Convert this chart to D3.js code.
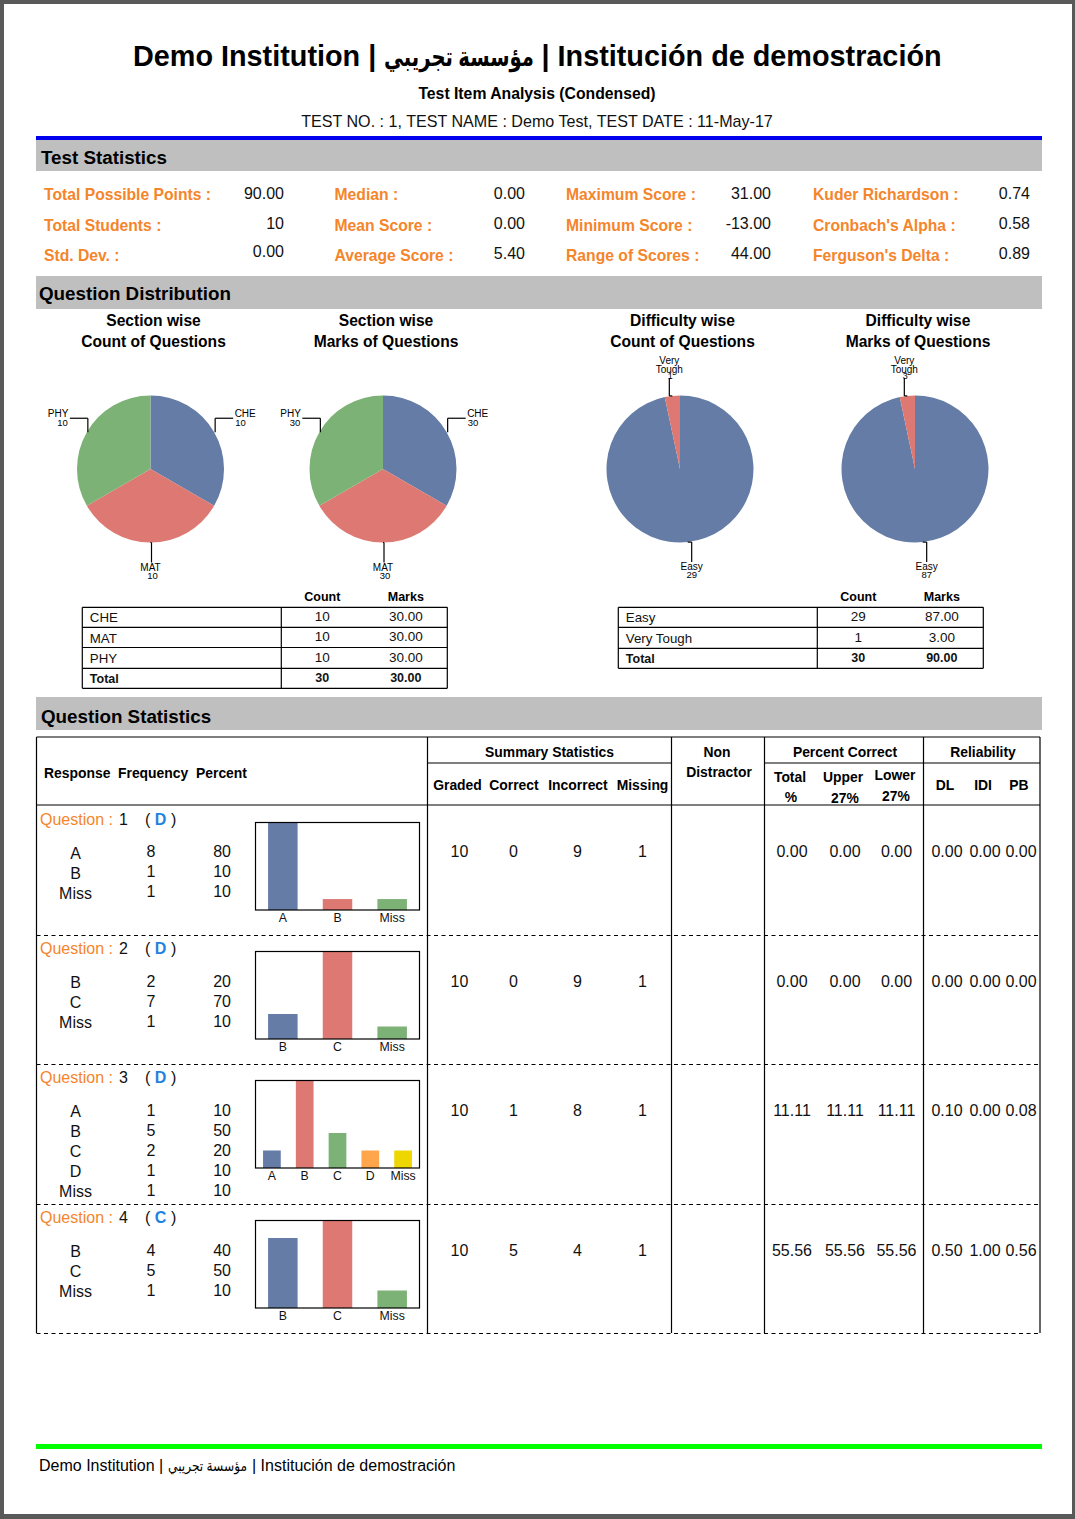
<!DOCTYPE html>
<html>
<head>
<meta charset="utf-8">
<script src="https://cdn.jsdelivr.net/npm/d3@7"></script>
<style>
body { margin: 0; background: #fff; }
svg { display: block; }
text { font-family: "Liberation Sans", "DejaVu Sans", sans-serif; fill: #111; }
</style>
</head>
<body>
<div id="chart"></div>
<script>
var institutionLatin = "Demo Institution |";
var institutionArabic = "مؤسسة تجريبي";
var institutionSpanish = "| Institución de demostración";
var reportTitle = "Test Item Analysis (Condensed)";
var testLine = "TEST NO. : 1, TEST NAME : Demo Test, TEST DATE : 11-May-17";

var statLabels = [
    ["Total Possible Points :", "Total Students :", "Std. Dev. :"],
    ["Median :", "Mean Score :", "Average Score :"],
    ["Maximum Score :", "Minimum Score :", "Range of Scores :"],
    ["Kuder Richardson :", "Cronbach's Alpha :", "Ferguson's Delta :"]
];
var statValues = [
    ["90.00", "10", "0.00"],
    ["0.00", "0.00", "5.40"],
    ["31.00", "-13.00", "44.00"],
    ["0.74", "0.58", "0.89"]
];

var sectionNames = ["CHE", "MAT", "PHY"];
var sectionCounts = [10, 10, 10];
var sectionMarks = [30, 30, 30];
var difficultyNames = ["Easy", "Very Tough"];
var difficultyCounts = [29, 1];
var difficultyMarks = [87, 3];

var questionNumbers = [1, 2, 3, 4];
var questionKeys = ["D", "D", "D", "C"];
var responseLabels = [
    ["A", "B", "Miss"],
    ["B", "C", "Miss"],
    ["A", "B", "C", "D", "Miss"],
    ["B", "C", "Miss"]
];
var responseFrequency = [
    [8, 1, 1],
    [2, 7, 1],
    [1, 5, 2, 1, 1],
    [4, 5, 1]
];
var responsePercent = [
    [80, 10, 10],
    [20, 70, 10],
    [10, 50, 20, 10, 10],
    [40, 50, 10]
];
var summaryStats = [
    [10, 0, 9, 1],
    [10, 0, 9, 1],
    [10, 1, 8, 1],
    [10, 5, 4, 1]
];
var percentCorrect = [
    ["0.00", "0.00", "0.00"],
    ["0.00", "0.00", "0.00"],
    ["11.11", "11.11", "11.11"],
    ["55.56", "55.56", "55.56"]
];
var reliability = [
    ["0.00", "0.00", "0.00"],
    ["0.00", "0.00", "0.00"],
    ["0.10", "0.00", "0.08"],
    ["0.50", "1.00", "0.56"]
];

var sliceColors = ["#647ca6", "#dd7972", "#7db276", "#ffa64d", "#eed700"];
var orange = "#f5852b";

// ---- page ----
var svg = d3.select("#chart").append("svg")
    .attr("width", 1075)
    .attr("height", 1519);

svg.append("rect").attr("width", 1075).attr("height", 1519).attr("fill", "#595959");
svg.append("rect").attr("x", 4).attr("y", 4).attr("width", 1068).attr("height", 1510).attr("fill", "#fff");

function label(x, y, txt, size, opts) {
    opts = opts || {};
    return svg.append("text")
        .attr("x", x)
        .attr("y", y)
        .attr("text-anchor", opts.anchor || "middle")
        .style("font-size", size + "px")
        .style("font-weight", opts.bold ? "bold" : "normal")
        .style("fill", opts.color || "#111")
        .text(txt);
}

function line(x1, y1, x2, y2, width, dash) {
    svg.append("line")
        .attr("x1", x1).attr("y1", y1)
        .attr("x2", x2).attr("y2", y2)
        .attr("stroke", "#000")
        .attr("stroke-width", width || 1.2)
        .attr("stroke-dasharray", dash || null);
}

function band(y, h, color) {
    svg.append("rect").attr("x", 36).attr("y", y).attr("width", 1006).attr("height", h).attr("fill", color);
}

// the arabic fallback font runs wider than the original, so it gets squeezed
function institution(x1, x2, arabicLen, x3, y, size, bold) {
    var o = { bold: bold, anchor: "start", color: "#000" };
    label(x1, y, institutionLatin, size, o);
    var ar = label(0, 0, institutionArabic, size * 0.92, o);
    var k = arabicLen / ar.node().getComputedTextLength();
    ar.attr("transform", "translate(" + x2 + "," + y + ") scale(" + k + ",1)");
    label(x3, y, institutionSpanish, size, o);
}

institution(133, 384, 150, 541.5, 66, 28.8, true);
label(537, 99, reportTitle, 15.75, { bold: true, color: "#000" });
label(537, 127, testLine, 16.1);

band(136, 4, "#0000ee");
band(140, 31, "#bfbfbf");
band(276, 33, "#bfbfbf");
band(697, 33, "#bfbfbf");
band(1444, 5, "#00ff00");

label(41, 163.5, "Test Statistics", 18.8, { bold: true, anchor: "start", color: "#000" });
label(39, 299.5, "Question Distribution", 18.8, { bold: true, anchor: "start", color: "#000" });
label(41, 722.5, "Question Statistics", 18.8, { bold: true, anchor: "start", color: "#000" });
institution(39, 168, 79, 252, 1471, 16, false);

// ---- test statistics ----
var statColX = [44, 334.5, 566, 813];
var statValX = [284, 525, 771, 1030];
var statLabelY = [200, 231, 261];
var statValueY = [199, 229, 259];
statLabels.forEach(function(col, c) {
    col.forEach(function(txt, r) {
        label(statColX[c], statLabelY[r], txt, 15.7, { bold: true, anchor: "start", color: orange });
        var vy = (c === 0 && r === 2) ? 257 : statValueY[r];
        label(statValX[c], vy, statValues[c][r], 16, { anchor: "end" });
    });
});

// ---- pies ----
var pie = d3.pie().sort(null);
var pieR = 73.5;
var arc = d3.arc().innerRadius(0).outerRadius(pieR);

function drawPie(cx, cy, names, values, titleX, title1, title2) {
    label(titleX, 326, title1, 15.6, { bold: true, color: "#000" });
    label(titleX, 347, title2, 15.6, { bold: true, color: "#000" });

    var g = svg.append("g").attr("transform", "translate(" + cx + "," + cy + ")");
    var slices = pie(values);
    g.selectAll("path")
        .data(slices)
        .enter().append("path")
        .attr("d", arc)
        .attr("fill", function(d, i) { return sliceColors[i]; });

    slices.forEach(function(d, i) {
        var mid = (d.startAngle + d.endAngle) / 2;
        var px = cx + Math.sin(mid) * pieR;
        var py = cy - Math.cos(mid) * pieR;
        var up = Math.cos(mid) > 0;
        var nearAxis = Math.abs(Math.sin(mid)) < 0.2;
        var dir = Math.sin(mid) > 0.01 ? 1 : (Math.sin(mid) < -0.01 ? -1 : 0);

        if (nearAxis) {
            // slice at the top or bottom: short step then straight out
            var ex = px + dir * 3.5 + (dir === 0 ? 1 : 0.5);
            var ey = up ? py - 18 : py + 20;
            var nudge = dir === 0 ? 1 : 0;
            line(px, py, ex, py);
            line(ex, py, ex, ey);
            if (up) {
                var parts = names[i].split(" ");
                label(ex, ey - 14, parts[0], 10, { color: "#000" });
                label(ex, ey - 5, parts[1], 10, { color: "#000" });
                label(ex + 1, ey + 1, values[i], 9, { color: "#000" });
            } else {
                label(ex - nudge, ey + 8, names[i], 10, { color: "#000" });
                label(ex + nudge, ey + 16, values[i], 9.5, { color: "#000" });
            }
        } else {
            px += 1;
            var tx = px + dir * 18;
            var ty = py - 14;
            line(px, py, px, ty);
            line(px, ty, tx, ty);
            var a = dir > 0 ? "start" : "end";
            label(tx + dir * 1.5, ty - 1, names[i], 10, { anchor: a, color: "#000" });
            label(tx + dir * 2, ty + 8, values[i], 9.5, { anchor: a, color: "#000" });
        }
    });
}

drawPie(150.5, 469, sectionNames, sectionCounts, 153.5, "Section wise", "Count of Questions");
drawPie(383, 469, sectionNames, sectionMarks, 386, "Section wise", "Marks of Questions");
drawPie(680, 469, difficultyNames, difficultyCounts, 682.5, "Difficulty wise", "Count of Questions");
drawPie(915, 469, difficultyNames, difficultyMarks, 918, "Difficulty wise", "Marks of Questions");

// ---- small tables under the pies ----
function drawTable(x0, x1, x2, names, counts, marks, rowLines) {
    var countX = (x1 + x2) / 2 - 42;
    var marksX = (x1 + x2) / 2 + 41.5;
    label(countX, 600.5, "Count", 12.5, { bold: true, color: "#000" });
    label(marksX, 600.5, "Marks", 12.5, { bold: true, color: "#000" });

    rowLines.forEach(function(y) { line(x0, y, x2, y); });
    [x0, x1, x2].forEach(function(x) {
        line(x, rowLines[0], x, rowLines[rowLines.length - 1]);
    });

    names.forEach(function(n, i) {
        var y = rowLines[i + 1];
        label(x0 + 7.5, y - 5, n, 13.3, { anchor: "start" });
        label(countX, y - 6.5, counts[i], 13.5);
        label(marksX, y - 6.5, marks[i].toFixed(2), 13.5);
    });
    var last = rowLines[rowLines.length - 1];
    label(x0 + 7.5, last - 5, "Total", 12.5, { bold: true, anchor: "start" });
    label(countX, last - 6.5, d3.sum(counts), 12.5, { bold: true });
    return { marksX: marksX, y: last - 6.5 };
}

var t1 = drawTable(82.3, 281.3, 447.3, sectionNames, sectionCounts, sectionMarks, [607.3, 627.3, 647.5, 668.3, 688.3]);
// the report prints 30.00 on this total row
label(t1.marksX, t1.y, "30.00", 12.5, { bold: true });
var t2 = drawTable(618.3, 817.3, 983.3, difficultyNames, difficultyCounts, difficultyMarks, [607.3, 627.3, 648.3, 668.3]);
label(t2.marksX, t2.y, d3.sum(difficultyMarks).toFixed(2), 12.5, { bold: true });

// ---- question statistics table ----
var gridTop = 737, headTop = 763, headBottom = 805, gridBottom = 1333;
var gridV = [36.5, 427.5, 671.5, 764.5, 923.5, 1040];

line(36.5, gridTop, 1040, gridTop);
line(36.5, headBottom, 1040, headBottom);
line(427.5, headTop, 671.5, headTop);
line(764.5, headTop, 1040, headTop);
gridV.forEach(function(x) { line(x, gridTop, x, gridBottom); });

function head(x, y, txt, anchor) {
    label(x, y, txt, 13.9, { bold: true, anchor: anchor || "middle", color: "#000" });
}
head(44, 778, "Response", "start");
head(118, 778, "Frequency", "start");
head(196, 778, "Percent", "start");
head(549.5, 757, "Summary Statistics");
head(457.5, 790, "Graded");
head(514, 790, "Correct");
head(578, 790, "Incorrect");
head(642.5, 790, "Missing");
head(717, 757, "Non");
head(719, 777, "Distractor");
head(845, 757, "Percent Correct");
head(790, 782, "Total");
head(791, 802, "%");
head(843, 782, "Upper");
head(845, 803, "27%");
head(895, 780, "Lower");
head(896, 801, "27%");
head(983, 757, "Reliability");
head(945, 790, "DL");
head(983, 790, "IDI");
head(1019, 790, "PB");

var rowTops = [806, 935.5, 1064.5, 1204.5];
var labelTops = [806, 934.5, 1063.5, 1203.5];
var rowBottoms = [935.5, 1064.5, 1204.5, 1333.5];
var frameTops = [822.5, 951.5, 1080.5, 1220.5];
var frameX0 = 255.5, frameX1 = 419.5, frameH = 87.5;
var summaryX = [459.5, 513.5, 577.5, 642.5];
var correctX = [792, 845, 896.5];
var reliabilityX = [947, 985, 1021];

questionNumbers.forEach(function(q, i) {
    var top = rowTops[i], lt = labelTops[i];
    line(36.5, rowBottoms[i], 1040, rowBottoms[i], 1.1, "4,3.5");

    label(40, lt + 19, "Question : ", 16, { anchor: "start", color: orange });
    label(119, lt + 19, q, 16, { anchor: "start" });
    label(145, lt + 19, "(", 16, { anchor: "start" });
    label(160.5, lt + 19, questionKeys[i], 16, { bold: true, color: "#1e82e0" });
    label(171, lt + 19, ")", 16, { anchor: "start" });

    responseLabels[i].forEach(function(r, k) {
        label(75.5, lt + 53 + k * 20, r, 16);
        label(151, top + 51 + k * 20, responseFrequency[i][k], 16);
        label(231, top + 51 + k * 20, responsePercent[i][k], 16, { anchor: "end" });
    });

    summaryStats[i].forEach(function(v, k) { label(summaryX[k], top + 51, v, 16); });
    percentCorrect[i].forEach(function(v, k) { label(correctX[k], top + 51, v, 16); });
    reliability[i].forEach(function(v, k) { label(reliabilityX[k], top + 51, v, 16); });

    // frequency bars
    var x = d3.scaleBand()
        .domain(responseLabels[i])
        .range([frameX0, frameX1])
        .paddingInner(0.46)
        .paddingOuter(0.23);
    var y = d3.scaleLinear()
        .domain([0, d3.max(responseFrequency[i])])
        .range([frameTops[i] + frameH, frameTops[i]]);

    svg.append("g").selectAll("rect")
        .data(responseFrequency[i])
        .enter().append("rect")
        .attr("x", function(d, k) { return x(responseLabels[i][k]); })
        .attr("y", function(d) { return y(d); })
        .attr("width", x.bandwidth())
        .attr("height", function(d) { return y(0) - y(d); })
        .attr("fill", function(d, k) { return sliceColors[k]; });

    svg.append("rect")
        .attr("x", frameX0).attr("y", frameTops[i])
        .attr("width", frameX1 - frameX0).attr("height", frameH)
        .attr("fill", "none")
        .attr("stroke", "#000")
        .attr("stroke-width", 1.2);

    var axis = svg.append("g")
        .attr("transform", "translate(0," + (frameTops[i] + frameH) + ")")
        .call(d3.axisBottom(x).tickSize(0).tickPadding(3));
    axis.select(".domain").remove();
    axis.selectAll("text").style("font-size", "12.3px").style("fill", "#111");
});
</script>
</body>
</html>
